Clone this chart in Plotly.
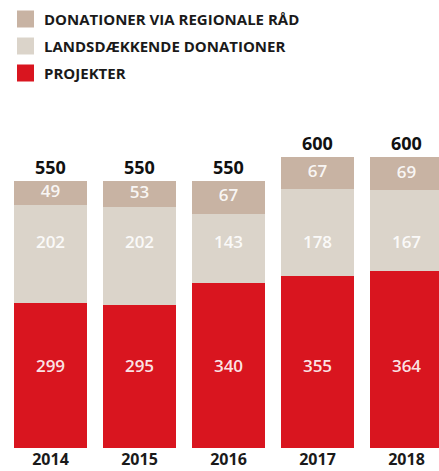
import plotly.graph_objects as go

years = ["2014", "2015", "2016", "2017", "2018"]
projekter = [299, 295, 340, 355, 364]
landsdaekkende = [202, 202, 143, 178, 167]
regionale = [49, 53, 67, 67, 69]
totals = [550, 550, 550, 600, 600]

series_names = ["DONATIONER VIA REGIONALE RÅD", "LANDSDÆKKENDE DONATIONER", "PROJEKTER"]
colors = {"PROJEKTER": "#d9151f", "LANDSDÆKKENDE DONATIONER": "#dbd4ca", "DONATIONER VIA REGIONALE RÅD": "#c8b3a3"}

W, H = 439, 471
ML, MR, MT, MB = 0, 0, 100, 23
FONT = "Open Sans"
label_font = dict(family=FONT, size=17, color="rgba(255,255,255,0.9)", weight=600)

fig = go.Figure()
xs = list(range(len(years)))

# stacked bars
bases = [0] * len(xs)
stack = [("PROJEKTER", projekter), ("LANDSDÆKKENDE DONATIONER", landsdaekkende),
         ("DONATIONER VIA REGIONALE RÅD", regionale)]
for name, vals in stack:
    fig.add_trace(go.Bar(
        x=xs, y=vals, name=name, marker=dict(color=colors[name], line=dict(width=0)),
        width=0.82, showlegend=False, hoverinfo="skip"))

# value labels: lower two series on a common row (mean of segment centres), top series centred
for i, (name, vals) in enumerate(stack):
    centres = [b + v / 2 for b, v in zip(bases, vals)]
    if i < 2:
        row = sum(centres) / len(centres)
        ys = [row] * len(xs)
    else:
        ys = centres
    fig.add_trace(go.Scatter(x=xs, y=ys, mode="text", text=[str(v) for v in vals],
                             textposition="middle center", textfont=label_font,
                             showlegend=False, hoverinfo="skip"))
    bases = [b + v for b, v in zip(bases, vals)]

for x, t in zip(xs, totals):
    fig.add_annotation(x=x, y=t, text=str(t), showarrow=False, yanchor="bottom", yshift=0,
                       font=dict(family=FONT, size=18, color="#111", weight=700))

plot_h = H - MT - MB
def py(p):
    return (H - MB - p) / plot_h

legend_rows = [19, 46, 73]
for name, yc in zip(series_names, legend_rows):
    fig.add_shape(type="rect", xref="paper", yref="paper", x0=17 / W, x1=34 / W,
                  y0=py(yc + 8.5), y1=py(yc - 8.5), fillcolor=colors[name], line=dict(width=0))
    fig.add_annotation(xref="paper", yref="paper", x=42 / W, y=py(yc), text=name,
                       showarrow=False, xanchor="left", yanchor="middle",
                       font=dict(family=FONT, size=15, color="#1a1a1a", weight=700))

fig.update_layout(
    width=W, height=H, barmode="stack", bargap=0,
    margin=dict(l=ML, r=MR, t=MT, b=MB),
    paper_bgcolor="white", plot_bgcolor="white",
    xaxis=dict(range=[-50.5 / 89, (W - 50.5) / 89], tickvals=xs, ticktext=years,
               showgrid=False, zeroline=False, showline=False, ticks="",
               tickfont=dict(family=FONT, size=16, color="#1a1a1a", weight=700), fixedrange=True),
    yaxis=dict(range=[0, plot_h / 0.4855], visible=False, fixedrange=True),
)

fig.write_html("out.html", post_script="document.body.style.margin='0';", config={"displayModeBar": False})
